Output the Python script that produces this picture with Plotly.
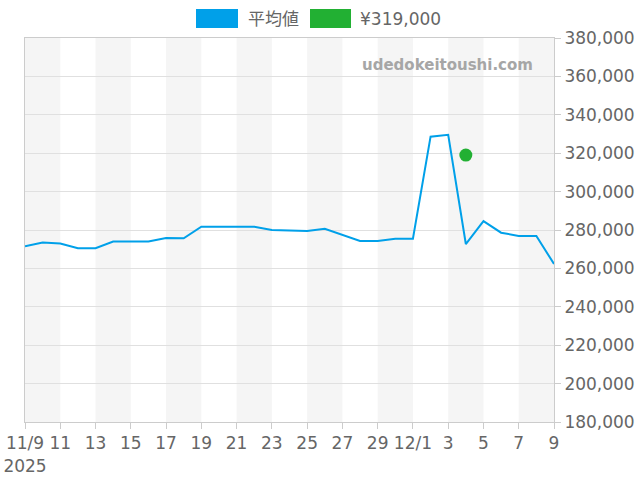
import pandas as pd
import plotly.graph_objects as go

dates = pd.date_range("2025-11-09", "2025-12-09", freq="D")
avg_price = [
    271500, 273500, 273000, 270500, 270500, 274000, 274000, 274000,
    275800, 275700, 281700, 281700, 281700, 281700, 280000, 279600,
    279500, 280600, 277500, 274300, 274300, 275500, 275500, 328600,
    329600, 272700, 284600, 278600, 276900, 276900, 262300,
]
point_date = ["2025-12-04"]
point_price = [319000]

tick_dates = pd.date_range("2025-11-09", "2025-12-09", freq="2D")
tick_text = ["11/9<br>2025", "11", "13", "15", "17", "19", "21", "23", "25",
             "27", "29", "12/1", "3", "5", "7", "9"]
band_starts = pd.date_range("2025-11-09", "2025-12-07", freq="4D")

BLUE = "#00a0e9"
GREEN = "#22b033"
GREY_TEXT = "#666666"
FONT = "DejaVu Sans, Noto Sans CJK JP"

fig = go.Figure()
fig.add_trace(go.Scatter(x=dates, y=avg_price, mode="lines",
                         line=dict(color=BLUE, width=2), name="平均値"))
fig.add_trace(go.Scatter(x=point_date, y=point_price, mode="markers",
                         marker=dict(color=GREEN, size=13), name="¥319,000"))

# alternating day bands
for s in band_starts:
    fig.add_vrect(x0=s, x1=s + pd.Timedelta(days=2), fillcolor="#f5f5f5",
                  line_width=0, layer="below")

# legend drawn by hand (boxes + labels)
fig.add_shape(type="rect", xref="paper", yref="paper", x0=(196 - 25) / 529,
              x1=(238 - 25) / 529, y0=(422 - 28) / 384, y1=(422 - 9) / 384,
              fillcolor=BLUE, line_width=0)
fig.add_shape(type="rect", xref="paper", yref="paper", x0=(310 - 25) / 529,
              x1=(351 - 25) / 529, y0=(422 - 28) / 384, y1=(422 - 9) / 384,
              fillcolor=GREEN, line_width=0)
fig.add_annotation(x=(246 - 25) / 529, y=(422 - 18.5) / 384, xref="paper",
                   yref="paper", text="平均値", showarrow=False, xanchor="left",
                   yanchor="middle",
                   font=dict(size=17, color=GREY_TEXT, family=FONT))
fig.add_annotation(x=(358 - 25) / 529, y=(422 - 18.5) / 384, xref="paper",
                   yref="paper", text="¥319,000", showarrow=False, xanchor="left",
                   yanchor="middle",
                   font=dict(size=17, color=GREY_TEXT, family=FONT))

fig.add_annotation(x=(447 - 25) / 529, y=(422 - 65) / 384, xref="paper",
                   yref="paper", text="<b>udedokeitoushi.com</b>", showarrow=False,
                   xanchor="center", yanchor="middle",
                   font=dict(size=15, color="#a6a6a6", family="DejaVu Sans"))

fig.update_layout(
    width=640, height=480,
    margin=dict(l=25, r=86, t=38, b=58, autoexpand=False),
    paper_bgcolor="white", plot_bgcolor="white",
    showlegend=False,
    font=dict(family=FONT, size=17, color=GREY_TEXT),
)
fig.update_xaxes(
    range=[dates[0], dates[-1]], automargin=False, tickangle=0,
    tickvals=tick_dates, ticktext=tick_text,
    showgrid=False, showline=True, linecolor="#cccccc", linewidth=1,
    mirror=True, ticks="outside", ticklen=6, tickcolor="#cccccc",
    tickfont=dict(size=17, color=GREY_TEXT),
)
fig.update_yaxes(
    side="right", range=[180000, 380000], dtick=20000, automargin=False,
    tickformat=",d", showgrid=True, gridcolor="#e0e0e0",
    showline=True, linecolor="#cccccc", linewidth=1, mirror=True,
    ticks="outside", ticklen=6, tickcolor="#cccccc", zeroline=False,
    tickfont=dict(size=17, color=GREY_TEXT),
)

fig.write_html("out.html", config={"displayModeBar": False},
               post_script="document.body.style.margin='0';")
